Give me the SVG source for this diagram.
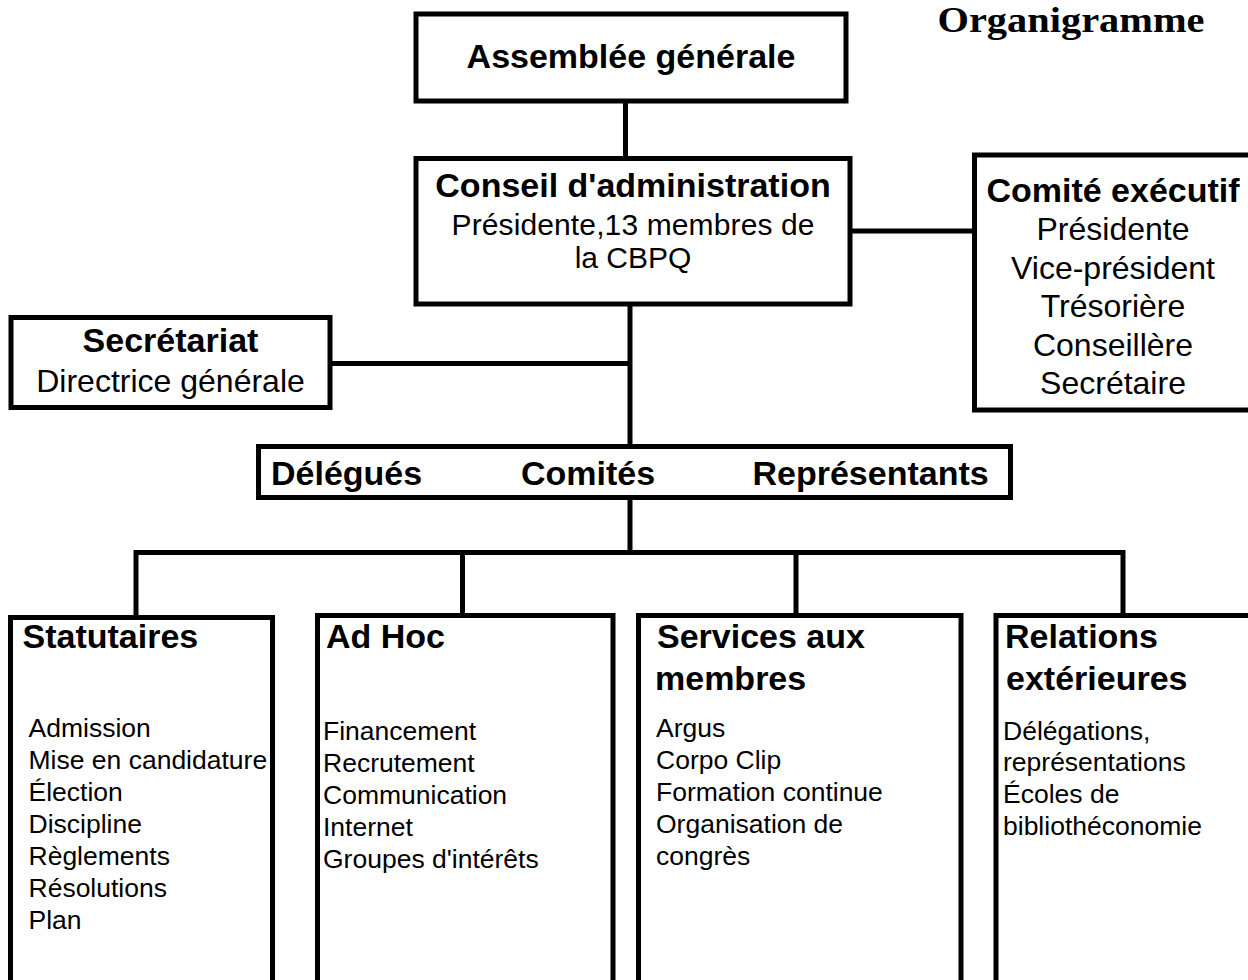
<svg xmlns="http://www.w3.org/2000/svg" width="1248" height="980" viewBox="0 0 1248 980">
<style>
.box{fill:#fff;stroke:#000;stroke-width:5}
.con{fill:none;stroke:#000;stroke-width:5;stroke-linejoin:miter}
text{font-family:"Liberation Sans",Arial,sans-serif;fill:#000}
.b{font-weight:bold;font-size:34px}
.r32{font-size:32px}
.r30{font-size:30px}
.r26{font-size:26.5px}
.c{text-anchor:middle}
.title{font-family:"Liberation Serif","Times New Roman",serif;font-weight:bold;font-size:35px}
</style>
<rect width="1248" height="980" fill="#fff"/>
<g id="connectors">
<path class="con" d="M625.5,101 V158.5"/>
<path class="con" d="M850,231 H974.5"/>
<path class="con" d="M630,304 V446.5"/>
<path class="con" d="M330,363.5 H630"/>
<path class="con" d="M630,497.5 V552.5"/>
<path class="con" d="M136,617.5 V552.5 H1123 V615.5"/>
<path class="con" d="M462.5,552.5 V615.5"/>
<path class="con" d="M796,552.5 V615.5"/>
</g>
<g id="titre">
<text class="title" x="937.5" y="32" textLength="267" lengthAdjust="spacingAndGlyphs">Organigramme</text>
</g>
<g id="assemblee">
<rect class="box" x="416" y="14" width="430" height="87"/>
<text class="b c" x="631" y="68">Assemblée générale</text>
</g>
<g id="conseil">
<rect class="box" x="416" y="158.5" width="434" height="145.5"/>
<text class="b c" x="633" y="197">Conseil d'administration</text>
<text class="r30 c" x="633" y="235" textLength="363" lengthAdjust="spacing">Présidente,13 membres de</text>
<text class="r30 c" x="633" y="268">la CBPQ</text>
</g>
<g id="comite-executif">
<rect class="box" x="974.5" y="155" width="300" height="255"/>
<text class="b c" x="1113" y="202">Comité exécutif</text>
<text class="r32 c" x="1113" y="240">Présidente</text>
<text class="r32 c" x="1113" y="279">Vice-président</text>
<text class="r32 c" x="1113" y="317">Trésorière</text>
<text class="r32 c" x="1113" y="355.5">Conseillère</text>
<text class="r32 c" x="1113" y="394">Secrétaire</text>
</g>
<g id="secretariat">
<rect class="box" x="11" y="317.5" width="319" height="90"/>
<text class="b c" x="170.5" y="352">Secrétariat</text>
<text class="r32 c" x="170.5" y="392">Directrice générale</text>
</g>
<g id="delegues">
<rect class="box" x="258.5" y="446.5" width="752" height="51"/>
<text class="b" x="271" y="485">Délégués</text>
<text class="b" x="521" y="485">Comités</text>
<text class="b" x="752.5" y="485">Représentants</text>
</g>
<g id="statutaires">
<rect class="box" x="10.5" y="617.5" width="262" height="400"/>
<text class="b" x="22.5" y="648">Statutaires</text>
<text class="r26" x="28.5" y="737">Admission</text>
<text class="r26" x="28.5" y="769">Mise en candidature</text>
<text class="r26" x="28.5" y="801">Élection</text>
<text class="r26" x="28.5" y="833">Discipline</text>
<text class="r26" x="28.5" y="865">Règlements</text>
<text class="r26" x="28.5" y="897">Résolutions</text>
<text class="r26" x="28.5" y="929">Plan</text>
</g>
<g id="adhoc">
<rect class="box" x="317.5" y="615.5" width="295.5" height="400"/>
<text class="b" x="326" y="648">Ad Hoc</text>
<text class="r26" x="323" y="740">Financement</text>
<text class="r26" x="323" y="772">Recrutement</text>
<text class="r26" x="323" y="804">Communication</text>
<text class="r26" x="323" y="836">Internet</text>
<text class="r26" x="323" y="868">Groupes d'intérêts</text>
</g>
<g id="services">
<rect class="box" x="638.5" y="615.5" width="322.5" height="400"/>
<text class="b" x="657" y="648">Services aux</text>
<text class="b" x="655" y="690">membres</text>
<text class="r26" x="656" y="737">Argus</text>
<text class="r26" x="656" y="769">Corpo Clip</text>
<text class="r26" x="656" y="801">Formation continue</text>
<text class="r26" x="656" y="833">Organisation de</text>
<text class="r26" x="656" y="865">congrès</text>
</g>
<g id="relations">
<rect class="box" x="996" y="615.5" width="300" height="400"/>
<text class="b" x="1005" y="648">Relations</text>
<text class="b" x="1006" y="690">extérieures</text>
<text class="r26" x="1003" y="740">Délégations,</text>
<text class="r26" x="1003" y="771">représentations</text>
<text class="r26" x="1003" y="803">Écoles de</text>
<text class="r26" x="1003" y="835">bibliothéconomie</text>
</g>
</svg>
